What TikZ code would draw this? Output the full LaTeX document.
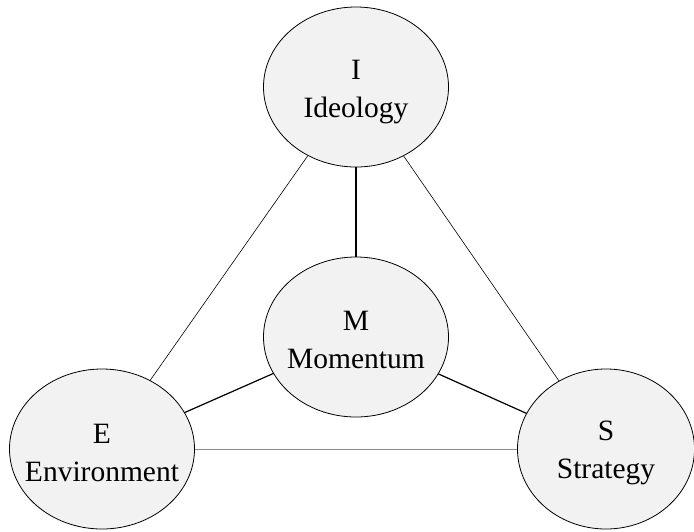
\documentclass[tikz,border=0pt]{standalone}
\usepackage{fontspec}
\setmainfont{Liberation Serif}
\usetikzlibrary{shapes.geometric}
\definecolor{bubblefill}{HTML}{F2F2F2}
\definecolor{linkgray}{HTML}{8A8A8A}
\begin{document}
\begin{tikzpicture}[x=1pt,y=-1pt,
  bubble/.style={ellipse, draw=black, line width=0.8pt, fill=bubblefill,
    minimum width=185pt, minimum height=160pt, inner sep=0pt},
  caption/.style={align=center, inner sep=0pt,
    font=\fontsize{29.5}{38}\selectfont},
  thinlink/.style={draw=black, line width=0.6pt},
  boldlink/.style={draw=black, line width=1.2pt},
  graylink/.style={draw=linkgray, line width=1pt}]
\useasboundingbox (0,0) rectangle (694,531);
% links first, so the bubbles cover their ends
\coordinate (ci) at (356,87);
\coordinate (cm) at (356,337);
\coordinate (ce) at (102,449);
\coordinate (cs) at (606,449);
\draw[thinlink] (ci) -- (ce);
\draw[thinlink] (ci) -- (cs);
\draw[boldlink] (ci) -- (cm);
\draw[boldlink] (cm) -- (ce);
\draw[boldlink] (cm) -- (cs);
\draw[graylink] (ce) -- (cs);
% the four bubbles
\node[bubble] (I) at (ci) {};
\node[bubble] (M) at (cm) {};
\node[bubble] (E) at (ce) {};
\node[bubble, minimum width=177pt] (S) at (cs) {};
% their captions, set a little below each centre
\node[caption] (It) at ([yshift=-5pt]I.center) {I\\Ideology};
\node[caption] (Mt) at ([yshift=-3pt]M.center) {M\\Momentum};
\node[caption] (Et) at ([yshift=-4pt]E.center) {E\\Environment};
\node[caption] (St) at ([yshift=-4pt]S.center) {S\\Strategy};
\end{tikzpicture}
\end{document}
